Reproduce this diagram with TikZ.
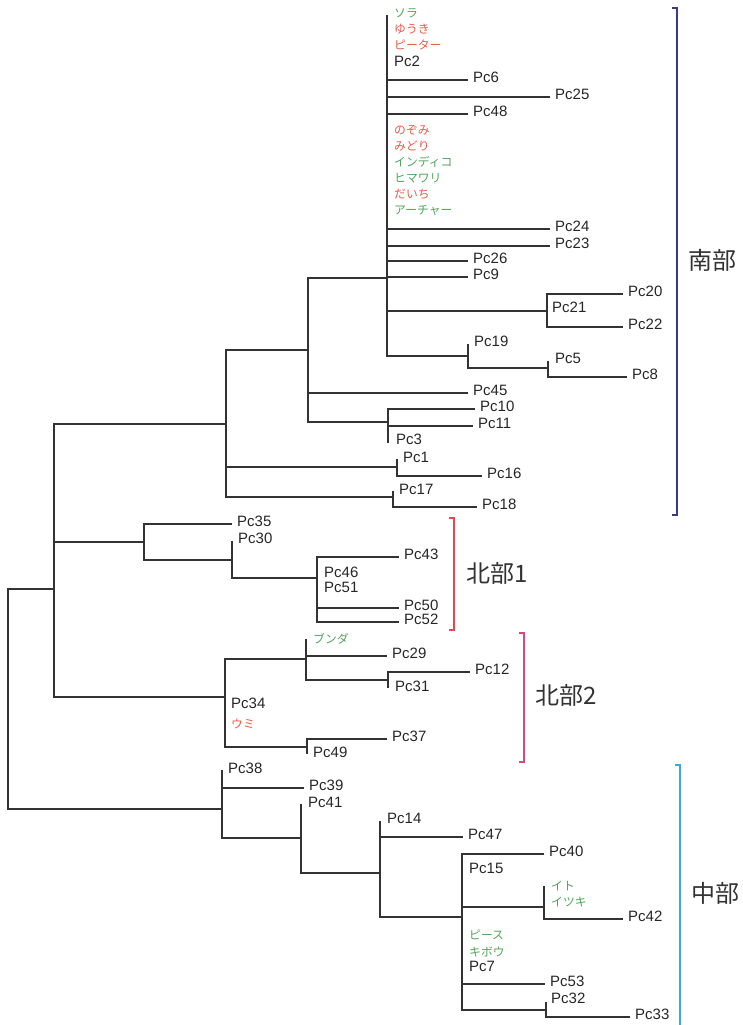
\documentclass[tikz,border=0pt]{standalone}
\usepackage{fontspec}
\setmainfont{Liberation Sans}
\newfontfamily\jpfont{Noto Sans CJK JP}
\usepackage{tikz}
\usetikzlibrary{positioning}
\definecolor{inkx}{HTML}{333333}
\definecolor{greenx}{HTML}{4FA55A}
\definecolor{redx}{HTML}{F0584A}
\definecolor{navyx}{HTML}{3A3A8C}
\definecolor{crimx}{HTML}{E8464C}
\definecolor{pinkx}{HTML}{E0457B}
\definecolor{skyx}{HTML}{3DA8E0}
\tikzset{
  br/.style={draw=inkx,line width=1.2pt},
  zl/.style={draw=inkx,line width=2.4pt},
  lf/.style={anchor=base west,inner sep=0pt,xshift=5pt,yshift=-2.5pt,font=\fontsize{15}{17}\selectfont,text=black!85},
  tx/.style={anchor=base west,inner sep=0pt,font=\fontsize{15}{17}\selectfont,text=black!85},
  jg/.style={anchor=base west,inner sep=0pt,font=\jpfont\fontsize{11.8}{13}\selectfont,text=greenx},
  jr/.style={jg,text=redx},
  grp/.style={font=\jpfont\fontsize{24}{28}\selectfont,text=black!80,inner sep=0pt},
  brk/.style={line width=1.2pt}
}

\begin{document}
\begin{tikzpicture}[x=1pt,y=-1pt]
\useasboundingbox (0,0) rectangle (742,1025);
% backbone
\coordinate (r) at (8,700);
\coordinate (nA) at (54,589);
\coordinate (nC) at (222,809);
\draw[br] (r) |- (nA);
\draw[br] (r) |- (nC);
\coordinate (nS) at (226,424);
\coordinate (nN1) at (144,542);
\coordinate (nN2) at (225,697);
\draw[br] (nA) |- (nS);
\draw[br] (nA) |- (nN1);
\draw[br] (nA) |- (nN2);

% south
\coordinate (nS1) at (308,350);
\coordinate (nP1) at (397,467);
\coordinate (nP17) at (393,497);
\draw[br] (nS) |- (nS1);
\draw[br] (nS) |- (nP1);
\draw[br] (nS) |- (nP17);
\coordinate (nP) at (387,278);
\coordinate (l45) at (468,393);
\coordinate (nP10) at (388,422);
\draw[br] (nS1) |- (nP);
\draw[br] (nS1) |- (l45);
\draw[br] (nS1) |- (nP10);
\node[lf] (t45) at (l45) {Pc45};

\coordinate (tipP) at (387,15);
\draw[br] (nP) -- (tipP);
\draw[zl] (387,199) -- (387,311);
\node[jg] (sora) at (394,18) {ソラ};
\node[jr] (yuki) at (394,34) {ゆうき};
\node[jr] (peter) at (394,50) {ピーター};
\node[tx] (t2) at (394,66.5) {Pc2};
\node[jr] (nozomi) at (394,134) {のぞみ};
\node[jr] (midori) at (394,150) {みどり};
\node[jg] (indigo) at (394,166) {インディコ};
\node[jg] (himawari) at (394,182) {ヒマワリ};
\node[jr] (daichi) at (394,198) {だいち};
\node[jg] (archer) at (394,214) {アーチャー};
\coordinate (l6) at (468,80);
\coordinate (l25) at (550,97);
\coordinate (l48) at (468,114);
\coordinate (l24) at (550,229);
\coordinate (l23) at (550,246);
\coordinate (l26) at (468,261);
\coordinate (l9) at (468,277);
\draw[br] (nP) |- (l6);
\draw[br] (nP) |- (l25);
\draw[br] (nP) |- (l48);
\draw[br] (nP) |- (l24);
\draw[br] (nP) |- (l23);
\draw[br] (nP) |- (l26);
\draw[br] (nP) |- (l9);
\node[lf] (t6) at (l6) {Pc6};
\node[lf] (t25) at (l25) {Pc25};
\node[lf] (t48) at (l48) {Pc48};
\node[lf] (t24) at (l24) {Pc24};
\node[lf] (t23) at (l23) {Pc23};
\node[lf] (t26) at (l26) {Pc26};
\node[lf] (t9) at (l9) {Pc9};

\coordinate (nP21) at (547,311);
\coordinate (nP19) at (468,356);
\draw[br] (nP) |- (nP21);
\draw[br] (nP) |- (nP19);
\coordinate (l20) at (623,294);
\coordinate (l22) at (623,327);
\draw[br] (nP21) |- (l20);
\draw[br] (nP21) |- (l22);
\node[lf] (t20) at (l20) {Pc20};
\node[lf] (t22) at (l22) {Pc22};
\node[tx] (t21) at (552,312) {Pc21};

\coordinate (tip19) at (468,344);
\coordinate (nP5) at (548,368);
\draw[br] (nP19) -- (tip19);
\draw[br] (nP19) |- (nP5);
\node[tx] (t19) at (474,346) {Pc19};
\coordinate (tip5) at (548,361);
\coordinate (l8) at (627,377);
\draw[br] (nP5) -- (tip5);
\draw[br] (nP5) |- (l8);
\node[tx] (t5) at (555,363) {Pc5};
\node[lf] (t8) at (l8) {Pc8};

\coordinate (l10) at (475,409);
\coordinate (l11) at (473,426);
\coordinate (tip3) at (388,443);
\draw[br] (nP10) |- (l10);
\draw[br] (nP10) |- (l11);
\draw[br] (nP10) -- (tip3);
\draw[zl] (388,428) -- (388,443);
\node[lf] (t10) at (l10) {Pc10};
\node[lf] (t11) at (l11) {Pc11};
\node[tx] (t3) at (396,444) {Pc3};

\coordinate (tip1) at (397,459);
\coordinate (l16) at (482,476);
\draw[br] (nP1) -- (tip1);
\draw[br] (nP1) |- (l16);
\node[tx] (t1) at (403,462) {Pc1};
\node[lf] (t16) at (l16) {Pc16};
\coordinate (tip17) at (393,491);
\coordinate (l18) at (477,507);
\draw[br] (nP17) -- (tip17);
\draw[br] (nP17) |- (l18);
\node[tx] (t17) at (399,494) {Pc17};
\node[lf] (t18) at (l18) {Pc18};

% north 1
\coordinate (l35) at (232,524);
\coordinate (nP30) at (232,560);
\draw[br] (nN1) |- (l35);
\draw[br] (nN1) |- (nP30);
\node[lf] (t35) at (l35) {Pc35};
\coordinate (tip30) at (232,541);
\coordinate (nP46) at (317,578);
\draw[br] (nP30) -- (tip30);
\draw[br] (nP30) |- (nP46);
\node[tx] (t30) at (238,543) {Pc30};
\coordinate (l43) at (399,557);
\coordinate (l50) at (399,608);
\coordinate (l52) at (399,622);
\draw[br] (nP46) |- (l43);
\draw[br] (nP46) |- (l50);
\draw[br] (nP46) |- (l52);
\draw[zl] (317,575) -- (317,598);
\node[lf] (t43) at (l43) {Pc43};
\node[lf] (t50) at (l50) {Pc50};
\node[lf] (t52) at (l52) {Pc52};
\node[tx] (t46) at (324,577) {Pc46};
\node[tx] (t51) at (324,592) {Pc51};

% north 2
\coordinate (nBu) at (306,659);
\coordinate (nP49) at (307,747);
\draw[br] (nN2) |- (nBu);
\draw[br] (nN2) |- (nP49);
\draw[zl] (225,723) -- (225,735);
\node[tx] (t34) at (231,708) {Pc34};
\node[jr] (umi) at (231,728) {ウミ};
\coordinate (tipBu) at (306,639);
\coordinate (l29) at (387,656);
\coordinate (nP12) at (388,680);
\draw[br] (nBu) -- (tipBu);
\draw[br] (nBu) |- (l29);
\draw[br] (nBu) |- (nP12);
\node[jg] (bunda) at (313,643) {ブンダ};
\node[lf] (t29) at (l29) {Pc29};
\coordinate (l12) at (470,672);
\coordinate (tip31) at (388,688);
\draw[br] (nP12) |- (l12);
\draw[br] (nP12) -- (tip31);
\node[lf] (t12) at (l12) {Pc12};
\node[tx] (t31) at (395,691) {Pc31};
\coordinate (l37) at (387,739);
\coordinate (tip49) at (307,754);
\draw[br] (nP49) |- (l37);
\draw[br] (nP49) -- (tip49);
\node[lf] (t37) at (l37) {Pc37};
\node[tx] (t49) at (313,757) {Pc49};

% central
\coordinate (tip38) at (222,770);
\coordinate (l39) at (304,788);
\coordinate (nP41) at (301,838);
\draw[br] (nC) -- (tip38);
\draw[zl] (222,780) -- (222,788);
\draw[br] (nC) |- (l39);
\draw[br] (nC) |- (nP41);
\node[tx] (t38) at (228,773) {Pc38};
\node[lf] (t39) at (l39) {Pc39};
\coordinate (tip41) at (301,804);
\coordinate (nP14) at (380,873);
\draw[br] (nP41) -- (tip41);
\draw[br] (nP41) |- (nP14);
\node[tx] (t41) at (308,807) {Pc41};
\coordinate (tip14) at (380,821);
\coordinate (l47) at (463,837);
\coordinate (nP15) at (462,917);
\draw[br] (nP14) -- (tip14);
\draw[zl] (380,829) -- (380,837);
\draw[br] (nP14) |- (l47);
\draw[br] (nP14) |- (nP15);
\node[tx] (t14) at (387,823) {Pc14};
\node[lf] (t47) at (l47) {Pc47};
\coordinate (l40) at (544,854);
\coordinate (nP42) at (544,907);
\coordinate (l53) at (545,984);
\coordinate (nP32) at (546,1010);
\draw[br] (nP15) |- (l40);
\draw[br] (nP15) |- (nP42);
\draw[br] (nP15) |- (l53);
\draw[br] (nP15) |- (nP32);
\draw[zl] (462,952) -- (462,980);
\node[lf] (t40) at (l40) {Pc40};
\node[lf] (t53) at (l53) {Pc53};
\node[tx] (t15) at (469,873) {Pc15};
\node[jg] (peace) at (469,939) {ピース};
\node[jg] (kibou) at (469,956) {キボウ};
\node[tx] (t7) at (469,971) {Pc7};
\coordinate (tipIto) at (544,886);
\coordinate (l42) at (623,919);
\draw[br] (nP42) -- (tipIto);
\draw[zl] (544,895) -- (544,902);
\draw[br] (nP42) |- (l42);
\node[jg] (ito) at (551,890) {イト};
\node[jg] (itsuki) at (551,906) {イツキ};
\node[lf] (t42) at (l42) {Pc42};
\coordinate (tip32) at (546,1002);
\coordinate (l33) at (630,1017);
\draw[br] (nP32) -- (tip32);
\draw[br] (nP32) |- (l33);
\node[tx] (t32) at (551,1003) {Pc32};
\node[lf] (t33) at (l33) {Pc33};

% groups
\draw[brk,navyx] (672,8) -- (677,8) -- (677,515) -- (672,515);
\node[grp] (south) at (712,260) {南部};
\draw[brk,crimx] (449,518) -- (454,518) -- (454,630) -- (449,630);
\node[grp] (north1) at (497,573) {北部1};
\draw[brk,pinkx] (519,633) -- (524,633) -- (524,762) -- (519,762);
\node[grp] (north2) at (566,695) {北部2};
\draw[brk,skyx] (675,765) -- (680,765) -- (680,1025);
\node[grp] (central) at (715,893) {中部};
\end{tikzpicture}
\end{document}
